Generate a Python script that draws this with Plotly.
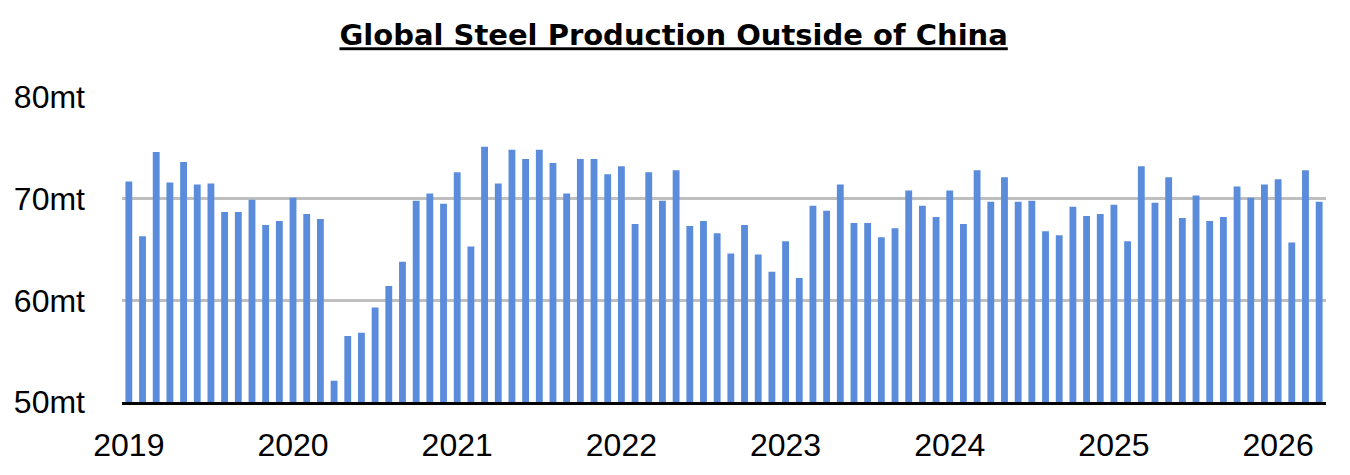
import plotly.graph_objects as go

years = ["2019", "2020", "2021", "2022", "2023", "2024", "2025", "2026"]
months = [f"{y}-{m:02d}" for y in years for m in range(1, 13)][:88]

production_mt = [
    71.7, 66.3, 74.6, 71.6, 73.6, 71.4, 71.5, 68.7, 68.7, 69.9, 67.4, 67.8,
    70.1, 68.5, 68.0, 52.1, 56.5, 56.8, 59.3, 61.4, 63.8, 69.8, 70.5, 69.5,
    72.6, 65.3, 75.1, 71.5, 74.8, 73.9, 74.8, 73.5, 70.5, 73.9, 73.9, 72.4,
    73.2, 67.5, 72.6, 69.8, 72.8, 67.3, 67.8, 66.6, 64.6, 67.4, 64.5, 62.8,
    65.8, 62.2, 69.3, 68.8, 71.4, 67.6, 67.6, 66.2, 67.1, 70.8, 69.3, 68.2,
    70.8, 67.5, 72.8, 69.7, 72.1, 69.7, 69.8, 66.8, 66.4, 69.2, 68.3, 68.5,
    69.4, 65.8, 73.2, 69.6, 72.1, 68.1, 70.3, 67.8, 68.2, 71.2, 70.1, 71.4,
    71.9, 65.7, 72.8, 69.7,
]

y_ticks = [50, 60, 70, 80]
y_ticktext = ["50mt", "60mt", "70mt", "80mt"]
x_tickvals = [f"{y}-01" for y in years]

fig = go.Figure(
    go.Bar(x=months, y=production_mt, marker=dict(color="#5A8CDB", line=dict(width=0)))
)

fig.update_layout(
    width=1350,
    height=475,
    margin=dict(l=122, r=24, t=97, b=68),
    paper_bgcolor="white",
    plot_bgcolor="white",
    bargap=0.5,
    showlegend=False,
    font=dict(family="Liberation Sans, Arial, sans-serif", color="black"),
    title=dict(
        text="<b><u>Global Steel Production Outside of China</u></b>",
        x=0.499,
        xanchor="center",
        xref="container",
        yref="container",
        y=1 - 25 / 475,
        yanchor="top",
        font=dict(size=29, family="DejaVu Sans, sans-serif", color="black"),
    ),
)

fig.update_xaxes(
    type="category",
    range=[-0.5, 87.5],
    tickmode="array",
    tickvals=x_tickvals,
    ticktext=years,
    showgrid=False,
    showline=True,
    linecolor="black",
    linewidth=3,
    ticks="",
    ticklabelstandoff=13,
    tickfont=dict(size=32),
)

fig.update_yaxes(
    range=[50, 80],
    tickmode="array",
    tickvals=y_ticks,
    ticktext=y_ticktext,
    showgrid=True,
    gridcolor="#BFBFBF",
    gridwidth=2.5,
    zeroline=False,
    showline=False,
    ticks="",
    ticklabelstandoff=36,
    tickfont=dict(size=32),
)

fig.write_html("out.html")
